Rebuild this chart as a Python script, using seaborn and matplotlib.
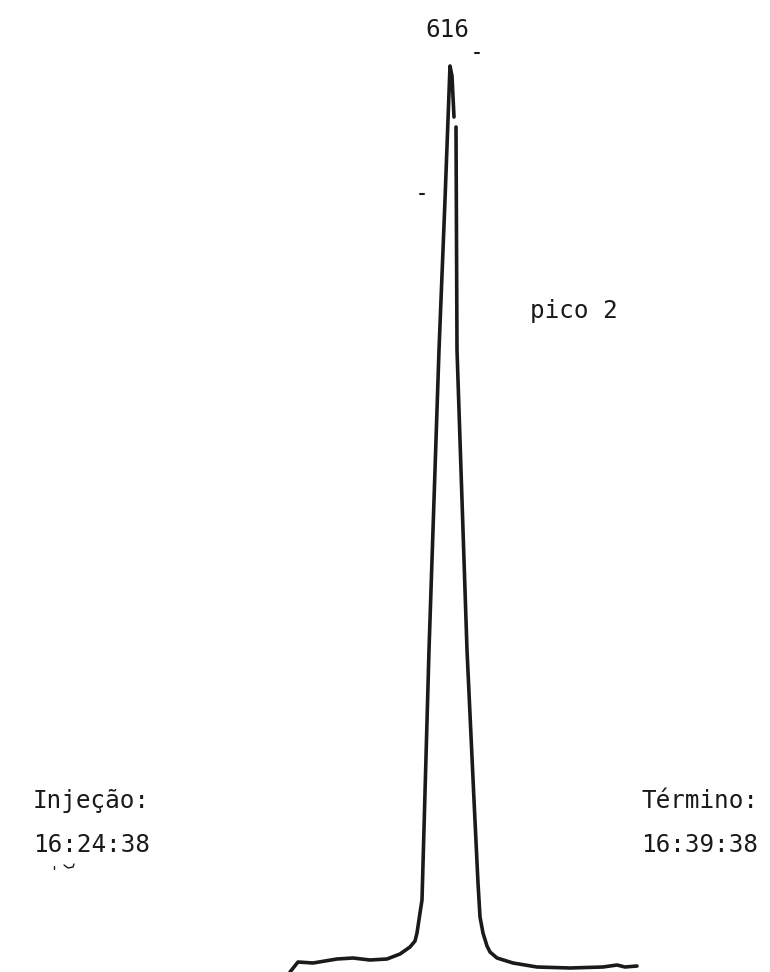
import matplotlib
matplotlib.use("Agg")
import matplotlib.pyplot as plt
import seaborn as sns
import pandas as pd

# Trace (page coordinates, y downward)
rise_x = [290, 298, 313, 337, 353, 370, 387, 400, 410, 415, 417, 420, 422, 429, 439, 445, 450, 452, 454]
rise_y = [972, 962, 963, 959, 958, 960, 959, 954, 947, 941, 933, 913, 900, 650, 350, 200, 66, 76, 117]
fall_x = [456, 457, 467, 474, 478, 480, 483, 487, 490, 497, 513, 537, 570, 603, 617, 625, 637]
fall_y = [127, 350, 650, 800, 883, 917, 933, 946, 952, 958, 963, 967, 968, 967, 965, 967, 966]

peak_label = "616"
peak_name = "pico 2"
start_label = ["Injeção:", "16:24:38"]
end_label = ["Término:", "16:39:38"]

sns.set_theme(style="white")
plt.rcParams["font.family"] = ["DejaVu Sans Mono", "DejaVu Sans"]

fig = plt.figure(figsize=(7.7, 9.72), dpi=100)
ax = fig.add_axes([0, 0, 1, 1])

rise = pd.DataFrame({"x": rise_x, "y": rise_y})
fall = pd.DataFrame({"x": fall_x, "y": fall_y})
sns.lineplot(data=rise, x="x", y="y", sort=False, estimator=None, color="#1a1a1a", lw=2.6, ax=ax)
sns.lineplot(data=fall, x="x", y="y", sort=False, estimator=None, color="#1a1a1a", lw=2.6, ax=ax)

ax.set_xlim(0, 770)
ax.set_ylim(972, 0)
ax.axis("off")

fs = 17.5
tc = "#1a1a1a"
ax.text(447, 37, peak_label, ha="center", va="baseline", fontsize=fs, color=tc)
ax.text(530, 318, peak_name, ha="left", va="baseline", fontsize=fs, color=tc)
ax.text(33, 808, start_label[0], ha="left", va="baseline", fontsize=fs, color=tc)
ax.text(33, 852, start_label[1], ha="left", va="baseline", fontsize=fs, color=tc)
ax.text(641, 808, end_label[0], ha="left", va="baseline", fontsize=fs, color=tc)
ax.text(641, 852, end_label[1], ha="left", va="baseline", fontsize=fs, color=tc)

# small specks on the scan
ax.plot([475, 479], [53, 53], color=tc, lw=1.5)
ax.plot([420, 424], [194, 194], color=tc, lw=1.5)
ax.plot([54, 54], [866, 869], color=tc, lw=1.0)
ax.plot([64, 68, 73, 74], [865, 868, 867, 864], color=tc, lw=1.0)

fig.savefig("out.png", dpi=100)
